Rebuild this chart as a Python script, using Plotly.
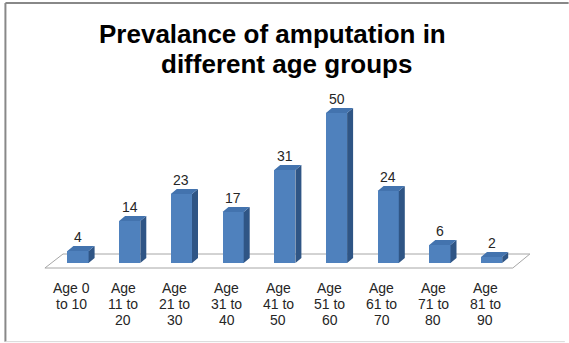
import plotly.graph_objects as go

# Data
categories = ["Age 0\nto 10", "Age\n11 to\n20", "Age\n21 to\n30", "Age\n31 to\n40",
              "Age\n41 to\n50", "Age\n51 to\n60", "Age\n61 to\n70", "Age\n71 to\n80",
              "Age\n81 to\n90"]
values = [4, 14, 23, 17, 31, 50, 24, 6, 2]
title_lines = ["Prevalance of amputation in", "different age groups"]

FONT = "Arial, Liberation Sans, sans-serif"
FRONT = "#4F81BD"
TOP = "#4373AE"
SIDE = "#2F5585"

# geometry of the pseudo-3D bars (in axis units)
BAR_W = 0.41      # width of the front face
DX = 0.116        # depth offset in x
DV = 1.67         # depth offset in value units

xs = list(range(len(values)))

fig = go.Figure()

# front faces
fig.add_trace(go.Bar(
    x=xs, y=values, width=BAR_W, marker=dict(color=FRONT, line=dict(width=0)),
    hoverinfo="skip", showlegend=False,
))

# top faces and right side faces as filled polygons
top_x, top_y, side_x, side_y = [], [], [], []
for x, v in zip(xs, values):
    l, r = x - BAR_W / 2, x + BAR_W / 2
    top_x += [l, r, r + DX, l + DX, l, None]
    top_y += [v, v, v + DV, v + DV, v, None]
    side_x += [r, r + DX, r + DX, r, r, None]
    side_y += [0, DV, v + DV, v, 0, None]

fig.add_trace(go.Scatter(x=side_x, y=side_y, mode="lines", fill="toself",
                         fillcolor=SIDE, line=dict(width=0, color=SIDE),
                         hoverinfo="skip", showlegend=False))
fig.add_trace(go.Scatter(x=top_x, y=top_y, mode="lines", fill="toself",
                         fillcolor=TOP, line=dict(width=0, color=TOP),
                         hoverinfo="skip", showlegend=False))

# floor plane under the bars
n = len(values)
floor_front, floor_back = -1.67, 3.0
fl_l, fl_r = -0.64, n - 1 + 0.41
fig.add_shape(
    type="path", xref="x", yref="y", layer="below",
    path=(f"M {fl_l},{floor_front} L {fl_r},{floor_front} "
          f"L {fl_r + 0.33},{floor_back} L {fl_l + 0.35},{floor_back} Z"),
    line=dict(color="#A6A6A6", width=1), fillcolor="white",
)

# value labels
for x, v in zip(xs, values):
    fig.add_annotation(x=x, y=v, text=str(v), showarrow=False, yanchor="middle",
                       yshift=14, font=dict(family=FONT, size=14, color="#262626"))

# category labels, one annotation per text line
line_y = [-8.3, -13.7, -19.0]
for x, cat in zip(xs, categories):
    for i, part in enumerate(cat.split("\n")):
        fig.add_annotation(x=x - 0.126, y=line_y[i], text=part, showarrow=False,
                           yanchor="middle",
                           font=dict(family=FONT, size=14, color="#262626"))

# two-line chart title
for (tx, ty), line in zip([(0.4667, 1.181), (0.4926, 1.063)], title_lines):
    fig.add_annotation(xref="paper", yref="paper", x=tx, y=ty, text=f"<b>{line}</b>",
                       showarrow=False, xanchor="center", yanchor="middle",
                       font=dict(family=FONT, size=26, color="black"))

# chart frame
fig.add_shape(type="line", xref="paper", yref="paper", x0=-0.027, x1=1.016,
              y0=1.302, y1=1.302, line=dict(color="#888888", width=2))
fig.add_shape(type="line", xref="paper", yref="paper", x0=-0.027, x1=-0.027,
              y0=1.302, y1=-0.026, line=dict(color="#888888", width=2))
fig.add_shape(type="line", xref="paper", yref="paper", x0=-0.027, x1=1.009,
              y0=-0.026, y1=-0.026, line=dict(color="#D9D9D9", width=1))

fig.update_layout(
    width=569, height=343,
    margin=dict(l=20, r=9, t=80, b=8),
    paper_bgcolor="white", plot_bgcolor="rgba(0,0,0,0)",
    xaxis=dict(range=[-1.122, 9.323], visible=False, fixedrange=True),
    yaxis=dict(range=[-24, 61], visible=False, fixedrange=True),
    bargap=0,
)

fig.write_html("out.html")
